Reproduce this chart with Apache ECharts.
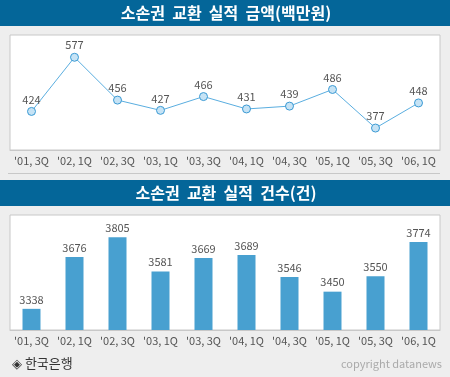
<!DOCTYPE html>
<html><head><meta charset="utf-8">
<script src="https://cdn.jsdelivr.net/npm/echarts@6/dist/echarts.min.js"></script>
<style>html,body{margin:0;padding:0;background:#eeeeee}#c{width:450px;height:377px}</style>
</head><body><div id="c"></div>
<script>
var categories = ["'01, 3Q","'02, 1Q","'02, 3Q","'03, 1Q","'03, 3Q","'04, 1Q","'04, 3Q","'05, 1Q","'05, 3Q","'06, 1Q"];
var amountValues = [424,577,456,427,466,431,439,486,377,448];
var countValues = [3338,3676,3805,3581,3669,3689,3546,3450,3550,3774];
var title1 = "소손권  교환  실적  금액(백만원)";
var title2 = "소손권  교환  실적  건수(건)";
var sourceText = "◈ 한국은행";
var copyText = "copyright datanews";

var font = "'Noto Sans CJK KR', 'DejaVu Sans', sans-serif";
var chart = echarts.init(document.getElementById('c'));
function xAx(gi, alignLabel){
  return {type:'category', gridIndex:gi, data:categories, boundaryGap:true,
    axisLine:{lineStyle:{color:'#c8c8c8'}},
    axisTick:{inside:true, length:5, alignWithLabel:alignLabel, lineStyle:{color:'#999'}},
    axisLabel:{color:'#555', fontSize:11, margin:5, fontFamily:font, interval:0}};
}
function yAx(gi, mn, mx){
  return {type:'value', gridIndex:gi, min:mn, max:mx, show:false, splitLine:{show:false}};
}
chart.setOption({
  backgroundColor:'#eeeeee',
  animation:false,
  grid:[
    {left:10, top:35, width:430, height:115, show:true, backgroundColor:'#fff', borderColor:'#c8c8c8', borderWidth:1},
    {left:10, top:215, width:430, height:115, show:true, backgroundColor:'#fff', borderColor:'#c8c8c8', borderWidth:1}
  ],
  xAxis:[xAx(0,true), xAx(1,false)],
  yAxis:[yAx(0,315,640), yAx(1,3200,3950)],
  series:[
    {type:'line', xAxisIndex:0, yAxisIndex:0, data:amountValues,
      symbol:'circle', symbolSize:8,
      lineStyle:{color:'#5aaee0', width:1},
      itemStyle:{color:'#c6e3f5', borderColor:'#3a9ad4', borderWidth:1},
      label:{show:true, position:'top', distance:2, color:'#555', fontSize:11, fontFamily:font}},
    {type:'bar', xAxisIndex:1, yAxisIndex:1, data:countValues, barWidth:18,
      itemStyle:{color:'#48a0d0'},
      label:{show:true, position:'top', distance:4, color:'#555', fontSize:11, fontFamily:font}}
  ],
  graphic:[
    {type:'rect', left:0, top:0, shape:{width:450, height:26}, style:{fill:'#046699'}},
    {type:'text', x:226, y:13, style:{text:title1, fill:'#fff', font:'bold 16px '+font, align:'center', verticalAlign:'middle'}},
    {type:'line', shape:{x1:8, y1:173.5, x2:440, y2:173.5}, style:{stroke:'#c8c8c8', lineWidth:1}},
    {type:'rect', left:0, top:180, shape:{width:450, height:26}, style:{fill:'#046699'}},
    {type:'text', x:226, y:193, style:{text:title2, fill:'#fff', font:'bold 16px '+font, align:'center', verticalAlign:'middle'}},
    {type:'text', x:12, y:363, style:{text:sourceText, fill:'#333', font:'13px '+font, align:'left', verticalAlign:'middle'}},
    {type:'text', x:442, y:364, style:{text:copyText, fill:'#aaa', font:'11px '+font, align:'right', verticalAlign:'middle'}}
  ]
});
</script></body></html>
